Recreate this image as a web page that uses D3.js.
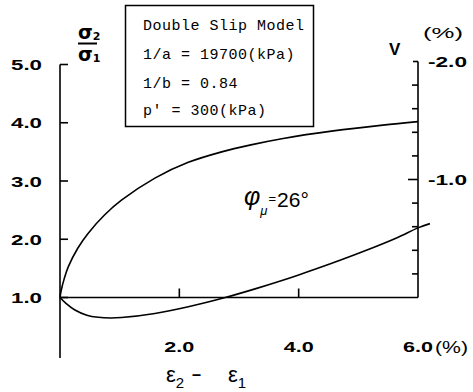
<!DOCTYPE html>
<html>
<head>
<meta charset="utf-8">
<script src="https://cdn.jsdelivr.net/npm/d3@7"></script>
<style>
  html, body { margin: 0; padding: 0; background: #fff; }
  svg { display: block; }
  .tick-label { font-family: "Liberation Sans", Arial, sans-serif; font-weight: bold; font-size: 15.5px; fill: #000; }
  .legend-text { font-family: "Liberation Mono", "DejaVu Sans Mono", monospace; font-size: 15px; fill: #000; letter-spacing: 0.5px; }
</style>
</head>
<body>
<svg id="chart" width="473" height="392"></svg>
<script>
// Axial strain difference ε2 - ε1 (%) and stress ratio σ2/σ1
const strainRatio = [0, 0.02, 0.07, 0.14, 0.3, 0.47, 0.75, 1.03, 1.59, 2.15, 2.71, 3.2, 3.74, 4.58, 5.41, 6.0];
const stressRatio = [1.0, 1.12, 1.32, 1.53, 1.85, 2.10, 2.42, 2.67, 3.05, 3.32, 3.50, 3.62, 3.73, 3.86, 3.96, 4.02];

// Volumetric strain V (%) against ε2 - ε1 (%)
const strainVol = [0, 0.1, 0.25, 0.45, 0.64, 0.85, 1.03, 1.59, 2.15, 2.77, 3.27, 3.72, 4.0, 4.52, 5.08, 5.64, 6.0, 6.2];
const volStrain = [0, 0.05, 0.106, 0.15, 0.168, 0.174, 0.17, 0.135, 0.078, 0.0, -0.073, -0.144, -0.191, -0.283, -0.389, -0.504, -0.59, -0.626];

// Tick values and labels
const xTicks = [2, 4, 6];
const xTickLabels = ["2.0", "4.0", "6.0"];
const leftTicks = [1, 2, 3, 4, 5];
const leftTickLabels = ["1.0", "2.0", "3.0", "4.0", "5.0"];
const rightMajor = [-1, -2];
const rightTickLabels = ["-1.0", "-2.0"];
const rightMinor = [-0.2, -0.4, -0.6, -0.8, -1.2, -1.4, -1.6, -1.8];

// Model parameters shown in the box
const legendLines = ["Double Slip Model", "1/a = 19700(kPa)", "1/b = 0.84", "p' = 300(kPa)"];

const svg = d3.select("#chart");

const x = d3.scaleLinear().domain([0, 6]).range([60, 418]);
const yL = d3.scaleLinear().domain([1, 5]).range([297.5, 64.5]);
const yV = d3.scaleLinear().domain([0, -2]).range([297.5, 61.5]);

const ink = "#000";
const axisW = 1.6;

// Left axis (stress ratio), ticks pointing inward
const leftAxis = svg.append("g").attr("transform", `translate(${x(0)},0)`);
leftAxis.append("line")
  .attr("y1", yL(5)).attr("y2", 358)
  .attr("stroke", ink).attr("stroke-width", axisW);
leftAxis.selectAll("line.t").data(leftTicks).join("line")
  .attr("class", "t")
  .attr("x1", 0).attr("x2", 8)
  .attr("y1", d => yL(d)).attr("y2", d => yL(d))
  .attr("stroke", ink).attr("stroke-width", axisW);
leftAxis.selectAll("text").data(leftTicks).join("text")
  .attr("class", "tick-label")
  .attr("x", -18).attr("y", d => yL(d)).attr("dy", "0.36em")
  .attr("text-anchor", "end")
  .attr("textLength", 31).attr("lengthAdjust", "spacingAndGlyphs")
  .text((d, i) => leftTickLabels[i]);

// Bottom axis (strain)
const bottomAxis = svg.append("g").attr("transform", `translate(0,${yL(1)})`);
bottomAxis.append("line")
  .attr("x1", x(0)).attr("x2", x(6))
  .attr("stroke", ink).attr("stroke-width", axisW);
bottomAxis.selectAll("line.t").data(xTicks.slice(0, 2)).join("line")
  .attr("class", "t")
  .attr("x1", d => x(d)).attr("x2", d => x(d))
  .attr("y1", 0).attr("y2", -9)
  .attr("stroke", ink).attr("stroke-width", axisW);
bottomAxis.selectAll("text").data(xTicks).join("text")
  .attr("class", "tick-label")
  .attr("x", d => x(d) - 15).attr("y", 54)
  .attr("textLength", 30).attr("lengthAdjust", "spacingAndGlyphs")
  .text((d, i) => xTickLabels[i]);
svg.append("text")
  .attr("x", x(6) + 17).attr("y", yL(1) + 55)
  .attr("font-family", "Liberation Sans, Arial, sans-serif")
  .attr("font-size", 17)
  .attr("textLength", 33).attr("lengthAdjust", "spacingAndGlyphs")
  .text("(%)");

// Right axis (volumetric strain), ticks pointing inward
const rightAxis = svg.append("g").attr("transform", `translate(${x(6)},0)`);
rightAxis.append("line")
  .attr("y1", yV(-2)).attr("y2", yV(0))
  .attr("stroke", ink).attr("stroke-width", axisW);
rightAxis.selectAll("line.maj").data(rightMajor).join("line")
  .attr("class", "maj")
  .attr("x1", 0).attr("x2", d => d === -2 ? -5 : -10)
  .attr("y1", d => yV(d)).attr("y2", d => yV(d))
  .attr("stroke", ink).attr("stroke-width", axisW);
rightAxis.selectAll("line.min").data(rightMinor).join("line")
  .attr("class", "min")
  .attr("x1", 0).attr("x2", -6)
  .attr("y1", d => yV(d)).attr("y2", d => yV(d))
  .attr("stroke", ink).attr("stroke-width", axisW);
rightAxis.selectAll("text").data(rightMajor).join("text")
  .attr("class", "tick-label")
  .attr("x", 10).attr("y", d => yV(d)).attr("dy", "0.36em")
  .attr("textLength", 39).attr("lengthAdjust", "spacingAndGlyphs")
  .text((d, i) => rightTickLabels[i]);

// Curves
const line = d3.line().curve(d3.curveCatmullRom.alpha(0.5));
svg.append("path")
  .attr("d", line(strainRatio.map((s, i) => [x(s), yL(stressRatio[i])])))
  .attr("fill", "none").attr("stroke", ink).attr("stroke-width", 1.6);
svg.append("path")
  .attr("d", line(strainVol.map((s, i) => [x(s), yV(volStrain[i])])))
  .attr("fill", "none").attr("stroke", ink).attr("stroke-width", 1.6);

// Axis titles
const sans = "Liberation Sans, Arial, sans-serif";
const frac = svg.append("g").attr("font-family", "DejaVu Sans, sans-serif").attr("font-weight", "bold");
frac.append("text").attr("x", 78).attr("y", 39).attr("font-size", 19).text("σ")
  .append("tspan").attr("font-size", 11).attr("dy", 1).text("2");
frac.append("line").attr("x1", 78).attr("x2", 97).attr("y1", 43.5).attr("y2", 43.5)
  .attr("stroke", ink).attr("stroke-width", 2);
frac.append("text").attr("x", 78).attr("y", 61).attr("font-size", 19).text("σ")
  .append("tspan").attr("font-size", 11).attr("dy", 1).text("1");

svg.append("text").attr("x", 389).attr("y", 55)
  .attr("font-family", sans).attr("font-weight", "bold").attr("font-size", 17).text("V");
svg.append("text").attr("x", 423).attr("y", 38)
  .attr("font-family", sans).attr("font-size", 15)
  .attr("textLength", 40).attr("lengthAdjust", "spacingAndGlyphs").text("(%)");

const xt = svg.append("g").attr("font-family", sans).attr("font-size", 22);
xt.append("text").attr("x", 166).attr("y", 382).text("ε")
  .append("tspan").attr("font-size", 15).attr("dy", 6).text("2");
xt.append("text").attr("x", 191).attr("y", 381)
  .attr("textLength", 11).attr("lengthAdjust", "spacingAndGlyphs").text("-");
xt.append("text").attr("x", 228).attr("y", 382).text("ε")
  .append("tspan").attr("font-size", 15).attr("dy", 6).text("1");

// Friction angle annotation: φμ = 26°
const ann = svg.append("text").attr("font-family", sans).attr("x", 244).attr("y", 205);
ann.append("tspan").attr("font-size", 25).attr("font-style", "italic").text("φ");
ann.append("tspan").attr("font-size", 13).attr("font-style", "italic").attr("dy", 10).text("μ");
ann.append("tspan").attr("font-size", 13).attr("dx", 1).attr("dy", -12).text("=");
ann.append("tspan").attr("font-size", 21).attr("dx", 1).attr("dy", 4).text("26°");

// Parameter box
svg.append("rect")
  .attr("x", 125.5).attr("y", 5.5).attr("width", 188).attr("height", 121)
  .attr("fill", "#fff").attr("stroke", ink).attr("stroke-width", 1.5);
const legendY = [30, 59, 88, 115];
svg.selectAll("text.legend-text").data(legendLines).join("text")
  .attr("class", "legend-text")
  .attr("x", 143).attr("y", (d, i) => legendY[i])
  .text(d => d);
</script>
</body>
</html>
